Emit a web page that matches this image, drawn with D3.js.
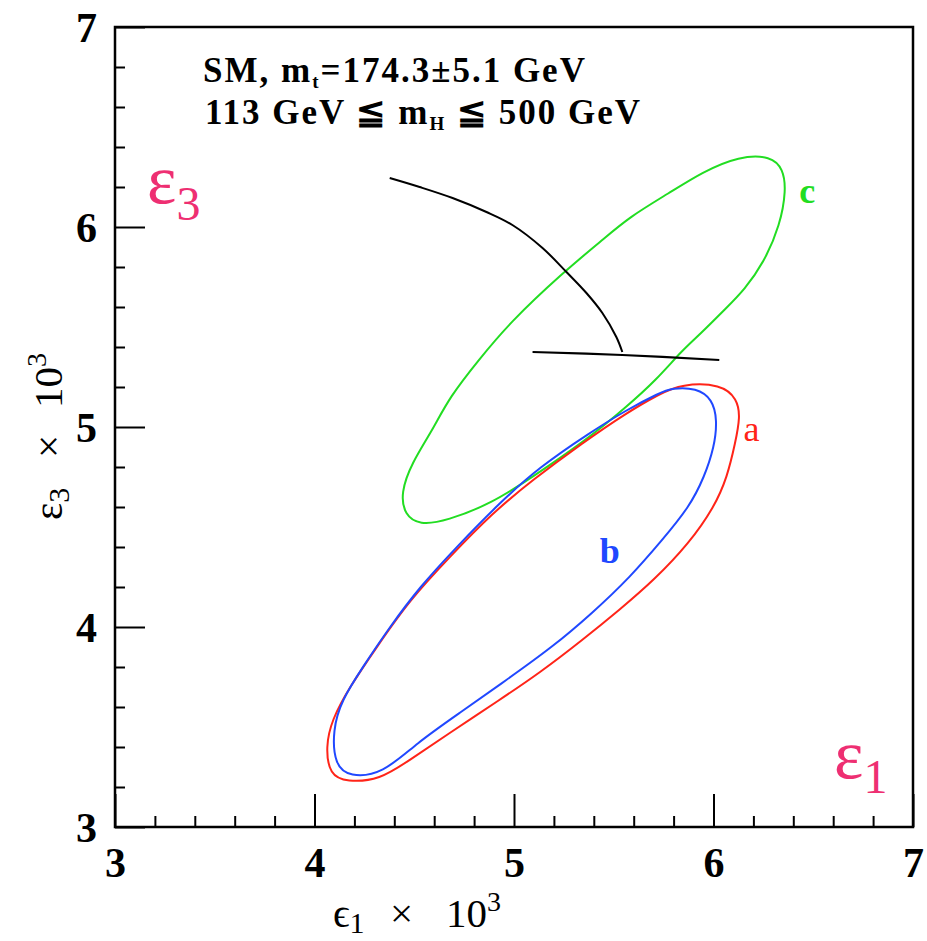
<!DOCTYPE html>
<html lang="en">
    <head>
        <meta charset="utf-8">
        <title>epsilon1 vs epsilon3</title>
        <script src="https://d3js.org/d3.v7.min.js"></script>
        <style type="text/css">
        body { margin: 0; background: white; }
        .tick-label {
            font-family: "Liberation Serif", serif;
            font-size: 42px;
            font-weight: bold;
        }
        .note {
            font-family: "Liberation Serif", serif;
            font-size: 35px;
            font-weight: bold;
            letter-spacing: 2px;
        }
        .axis-title {
            font-family: "Liberation Serif", serif;
            font-size: 41px;
        }
        .eps {
            font-family: "Liberation Serif", serif;
            fill: #ee2f72;
        }
        </style>
    </head>
    <body>
        <svg width="927" height="941"></svg>

    <script type="text/javascript">

            // tick values
            const xMajor = [3, 4, 5, 6, 7];
            const yMajor = [3, 4, 5, 6, 7];
            const minorStep = 0.2;

            // contour a (red)
            const curveA = [
                [5.839, 5.215], [6.039, 5.215], [6.119, 5.14], [6.134, 5.05], [6.109, 4.92],
                [6.069, 4.75], [6.004, 4.60], [5.879, 4.42], [5.703, 4.235], [5.528, 4.085],
                [5.343, 3.935], [5.128, 3.77], [4.927, 3.635], [4.677, 3.47], [4.477, 3.335],
                [4.327, 3.235], [4.161, 3.225], [4.076, 3.26], [4.056, 3.40], [4.086, 3.535],
                [4.176, 3.70], [4.312, 3.90], [4.477, 4.135], [4.677, 4.35], [4.892, 4.57],
                [5.093, 4.735], [5.343, 4.92], [5.563, 5.07], [5.728, 5.165]
            ];

            // contour b (blue)
            const curveB = [
                [5.728, 5.17], [5.793, 5.195], [5.914, 5.195], [5.994, 5.14], [6.019, 5.035],
                [6.004, 4.90], [5.954, 4.75], [5.879, 4.60], [5.743, 4.435], [5.583, 4.25],
                [5.393, 4.07], [5.193, 3.90], [4.962, 3.735], [4.727, 3.57], [4.512, 3.42],
                [4.342, 3.265], [4.176, 3.25], [4.101, 3.31], [4.091, 3.485], [4.136, 3.635],
                [4.242, 3.80], [4.377, 4.00], [4.527, 4.20], [4.712, 4.40], [4.927, 4.62],
                [5.128, 4.80], [5.378, 4.97], [5.563, 5.085]
            ];

            // contour c (green)
            const curveC = [
                [6.129, 6.355], [6.289, 6.355], [6.349, 6.29], [6.364, 6.185], [6.334, 6.01],
                [6.254, 5.825], [6.154, 5.685], [6.064, 5.595], [5.929, 5.46], [5.844, 5.385],
                [5.713, 5.235], [5.563, 5.10], [5.363, 4.935], [5.093, 4.75], [4.892, 4.62],
                [4.662, 4.53], [4.527, 4.51], [4.452, 4.56], [4.432, 4.67], [4.487, 4.82],
                [4.592, 4.985], [4.677, 5.15], [4.827, 5.34], [4.977, 5.52], [5.243, 5.77],
                [5.443, 5.935], [5.578, 6.05], [5.778, 6.17], [5.944, 6.275]
            ];

            // SM prediction: m_H curve and m_t band
            const smHiggs = [
                [4.377, 6.245], [4.527, 6.20], [4.692, 6.145], [4.862, 6.075], [4.992, 6.01],
                [5.143, 5.895], [5.263, 5.775], [5.363, 5.67], [5.443, 5.57], [5.513, 5.45],
                [5.543, 5.375]
            ];
            const smTop = [[5.093, 5.375], [5.543, 5.36], [6.029, 5.335]];

            const svg = d3.select("svg");
            const mLeft = 115, mRight = 913, mTop = 27, mBottom = 827;

            const xScale = d3.scaleLinear().domain([3, 7]).range([mLeft, mRight]);
            const yScale = d3.scaleLinear().domain([3, 7]).range([mBottom, mTop]);

            const minorX = d3.range(3, 7.001, minorStep).filter(v => Math.abs(v - Math.round(v)) > 1e-6);
            const minorY = minorX.slice();

            // minor ticks (inside)
            svg.append("g")
               .attr("transform", "translate(0," + mBottom + ")")
               .call(d3.axisBottom(xScale).tickValues(minorX).tickSize(-11).tickFormat(""))
               .call(g => g.select(".domain").remove())
               .selectAll("line").attr("stroke-width", 2);

            svg.append("g")
               .attr("transform", "translate(" + mLeft + ",0)")
               .call(d3.axisLeft(yScale).tickValues(minorY).tickSize(-10).tickFormat(""))
               .call(g => g.select(".domain").remove())
               .selectAll("line").attr("stroke-width", 2);

            // major ticks with labels
            const xAxis = svg.append("g")
               .attr("transform", "translate(0," + mBottom + ")")
               .call(d3.axisBottom(xScale).tickValues(xMajor).tickSize(-33).tickPadding(0).tickFormat(d3.format("d")))
               .call(g => g.select(".domain").remove());
            xAxis.selectAll("line").attr("stroke-width", 2);
            xAxis.selectAll("text")
                 .attr("class", "tick-label")
                 .attr("y", 50)
                 .attr("dy", 0)
                 .attr("fill", "black");

            const yAxis = svg.append("g")
               .attr("transform", "translate(" + mLeft + ",0)")
               .call(d3.axisLeft(yScale).tickValues(yMajor).tickSize(-30).tickPadding(0).tickFormat(d3.format("d")))
               .call(g => g.select(".domain").remove());
            yAxis.selectAll("line").attr("stroke-width", 2);
            yAxis.selectAll("text")
                 .attr("class", "tick-label")
                 .attr("x", -18)
                 .attr("dy", "0.35em")
                 .attr("fill", "black");

            // frame
            svg.append("rect")
               .attr("x", mLeft).attr("y", mTop)
               .attr("width", mRight - mLeft).attr("height", mBottom - mTop)
               .attr("fill", "none").attr("stroke", "black").attr("stroke-width", 2.5);

            // contours
            const closed = d3.line()
                             .x(d => xScale(d[0]))
                             .y(d => yScale(d[1]))
                             .curve(d3.curveBasisClosed);
            const open = d3.line()
                           .x(d => xScale(d[0]))
                           .y(d => yScale(d[1]))
                           .curve(d3.curveCatmullRom);

            const contours = [
                {pts: curveC, color: "#22dd22"},
                {pts: curveA, color: "#ff2418"},
                {pts: curveB, color: "#2048ff"}
            ];
            svg.selectAll("path.contour")
               .data(contours)
               .enter()
               .append("path")
               .attr("class", "contour")
               .attr("d", d => closed(d.pts))
               .attr("fill", "none")
               .attr("stroke", d => d.color)
               .attr("stroke-width", 2);

            svg.append("path")
               .attr("d", open(smHiggs))
               .attr("fill", "none").attr("stroke", "black").attr("stroke-width", 2);
            svg.append("path")
               .attr("d", open(smTop))
               .attr("fill", "none").attr("stroke", "black").attr("stroke-width", 2.2);

            // contour labels
            const labels = [
                {t: "a", x: 6.15, y: 4.93, color: "#ff2418", w: "normal"},
                {t: "b", x: 5.43, y: 4.32, color: "#2048ff", w: "bold"},
                {t: "c", x: 6.43, y: 6.12, color: "#22dd22", w: "bold"}
            ];
            svg.selectAll("text.clabel")
               .data(labels)
               .enter()
               .append("text")
               .attr("class", "clabel")
               .attr("x", d => xScale(d.x))
               .attr("y", d => yScale(d.y))
               .attr("fill", d => d.color)
               .attr("font-family", "Liberation Serif, serif")
               .attr("font-weight", d => d.w)
               .attr("font-size", 36)
               .text(d => d.t);

            // annotation
            const note1 = svg.append("text").attr("class", "note").attr("x", 203).attr("y", 82);
            note1.append("tspan").text("SM,  m");
            note1.append("tspan").attr("font-size", 19).attr("dy", 6).text("t");
            note1.append("tspan").attr("dy", -6).text("=174.3\u00b15.1  GeV");

            const note2 = svg.append("text").attr("class", "note").attr("x", 205).attr("y", 124);
            note2.append("tspan").text("113  GeV  \u2266  m");
            note2.append("tspan").attr("font-size", 19).attr("dy", 6).text("H");
            note2.append("tspan").attr("dy", -6).text("  \u2266  500  GeV");

            // axis titles
            const xt = svg.append("text").attr("class", "axis-title").attr("y", 927);
            xt.append("tspan").attr("x", 333).text("\u03f5");
            xt.append("tspan").attr("font-size", 30).attr("dy", 6).text("1");
            xt.append("tspan").attr("x", 390).attr("dy", -6).text("\u00d7");
            xt.append("tspan").attr("x", 446).text("10");
            xt.append("tspan").attr("font-size", 28).attr("dy", -16).text("3");

            const yt = svg.append("text").attr("class", "axis-title")
                          .attr("transform", "translate(62,520) rotate(-90)");
            yt.append("tspan").attr("x", 0).text("\u03b5");
            yt.append("tspan").attr("font-size", 30).attr("dy", 7).text("3");
            yt.append("tspan").attr("x", 62).attr("dy", -7).text("\u00d7");
            yt.append("tspan").attr("x", 112).text("10");
            yt.append("tspan").attr("font-size", 28).attr("dy", -16).text("3");

            // pink epsilon labels
            const e3 = svg.append("text").attr("class", "eps").attr("x", 147).attr("y", 203);
            e3.append("tspan").attr("font-size", 70).text("\u03b5");
            e3.append("tspan").attr("font-size", 48).attr("dy", 17).text("3");

            const e1 = svg.append("text").attr("class", "eps").attr("x", 834).attr("y", 778);
            e1.append("tspan").attr("font-size", 70).text("\u03b5");
            e1.append("tspan").attr("font-size", 48).attr("dy", 15).text("1");
        </script>
    </body>
</html>
